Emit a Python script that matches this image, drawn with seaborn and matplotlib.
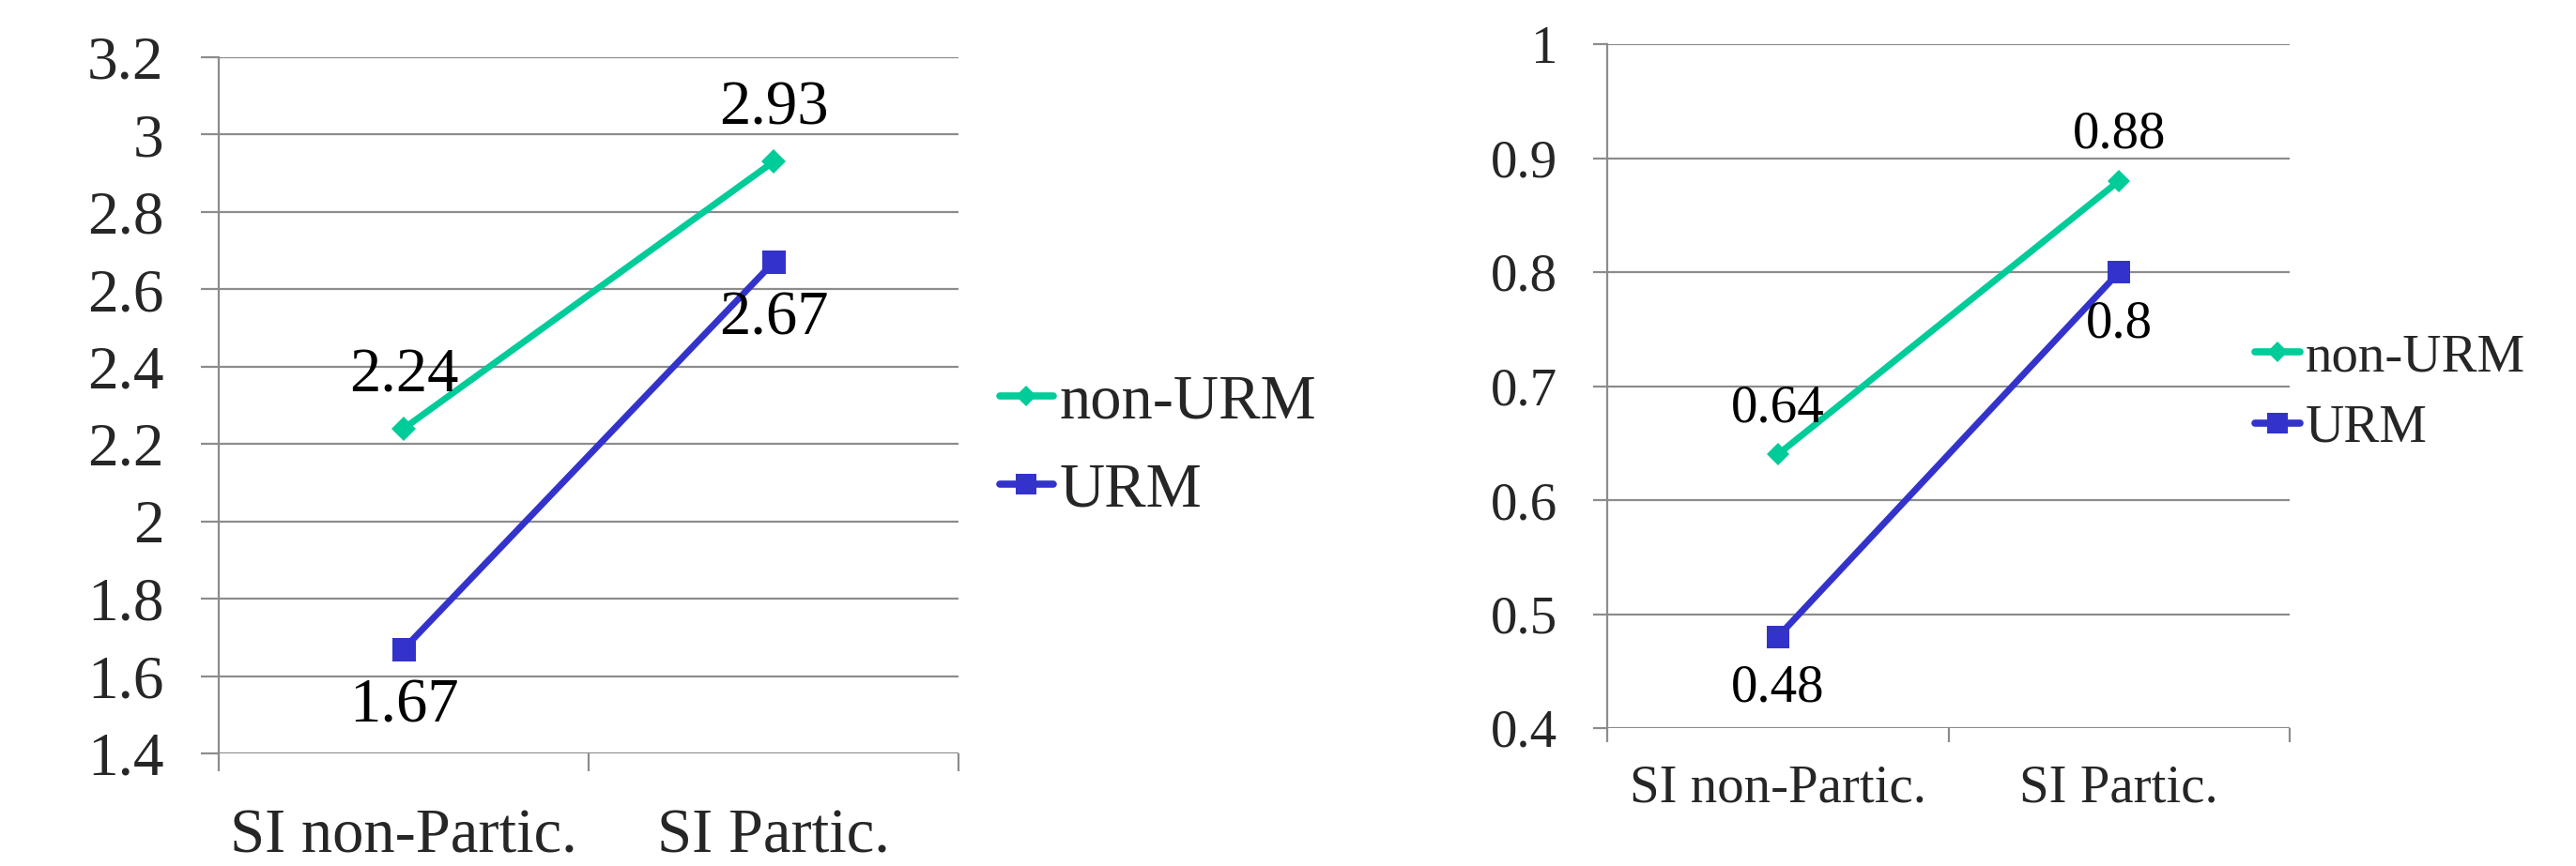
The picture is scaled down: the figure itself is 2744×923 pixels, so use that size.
import matplotlib
matplotlib.use("Agg")
import matplotlib.pyplot as plt
import seaborn as sns
import pandas as pd

categories = ["SI non-Partic.", "SI Partic."]
groups = ["non-URM", "URM"]
left_nonurm = [2.24, 2.93]
left_urm = [1.67, 2.67]
right_nonurm = [0.64, 0.88]
right_urm = [0.48, 0.80]
left_labels = {"non-URM": ["2.24", "2.93"], "URM": ["1.67", "2.67"]}
right_labels = {"non-URM": ["0.64", "0.88"], "URM": ["0.48", "0.8"]}
left_yticks = [1.4, 1.6, 1.8, 2.0, 2.2, 2.4, 2.6, 2.8, 3.0, 3.2]
left_yticklabels = ["1.4", "1.6", "1.8", "2", "2.2", "2.4", "2.6", "2.8", "3", "3.2"]
right_yticks = [0.4, 0.5, 0.6, 0.7, 0.8, 0.9, 1.0]
right_yticklabels = ["0.4", "0.5", "0.6", "0.7", "0.8", "0.9", "1"]

colors = {"non-URM": "#00CC99", "URM": "#3333CC"}
markers = {"non-URM": "D", "URM": "s"}

sns.set_style("white")
plt.rcParams["font.family"] = ["Liberation Serif", "DejaVu Serif"]

def make_df(nonurm, urm):
    rows = []
    for g, vals in zip(groups, [nonurm, urm]):
        for c, v in zip(categories, vals):
            rows.append({"cat": c, "val": v, "group": g})
    return pd.DataFrame(rows)

fig = plt.figure(figsize=(27.44, 9.23), dpi=100)
axL = fig.add_axes([233/2744, 1-803/923, 788/2744, (803-61)/923])
axR = fig.add_axes([1712/2744, 1-776/923, 727/2744, (776-47)/923])

GRID = "#8C8C8C"

def draw(ax, nonurm, urm, labels, yticks, yticklabels, ylim, fs, tickfs, xfs,
         ticklen, ypad, xpad, above, below, leg_xy, leg_spacing, msq, mdi):
    df = make_df(nonurm, urm)
    sns.lineplot(data=df, x="cat", y="val", hue="group", style="group",
                 palette=colors, markers=markers, dashes=False, ax=ax,
                 linewidth=5, markeredgewidth=0, legend=True, sort=False)
    for line in ax.get_lines():
        line.set_linewidth(5)
        if line.get_marker() == "s":
            line.set_markersize(msq)
        elif line.get_marker() == "D":
            line.set_markersize(mdi)
    ax.set_xlim(-0.5, 1.5)
    ax.set_ylim(*ylim)
    ax.set_yticks(yticks)
    ax.set_yticklabels(yticklabels)
    ax.set_xticks(range(len(categories)))
    ax.set_xticklabels(categories)
    ax.set_xticks([-0.5, 0.5, 1.5], minor=True)
    ax.set_xlabel("")
    ax.set_ylabel("")
    ax.yaxis.grid(True, color=GRID, linewidth=1.6)
    ax.xaxis.grid(False)
    for s in ["top", "right", "bottom"]:
        ax.spines[s].set_visible(False)
    ax.spines["left"].set_color(GRID)
    ax.spines["left"].set_linewidth(1.6)
    ax.tick_params(axis="y", which="major", length=ticklen, width=1.6, color=GRID,
                   labelsize=tickfs, pad=ypad, left=True, direction="out")
    ax.tick_params(axis="x", which="major", length=0, labelsize=xfs, pad=xpad)
    ax.tick_params(axis="x", which="minor", length=ticklen, width=1.6, color=GRID,
                   bottom=True, direction="out")
    for g, vals in zip(groups, [nonurm, urm]):
        for i, v in enumerate(vals):
            off = above if g == "non-URM" else -below
            ax.annotate(labels[g][i], xy=(i, v), xytext=(0, off),
                        textcoords="offset pixels", ha="center", va="center",
                        fontsize=fs, color="black")
    handles, labs = ax.get_legend_handles_labels()
    if ax.get_legend() is not None:
        ax.get_legend().remove()
    for h in handles:
        h.set_linewidth(5.5)
        if h.get_marker() == "D":
            h.set_markersize(mdi * 0.9)
        else:
            h.set_markersize(msq * 0.9)
    fig.legend(handles, labs, loc="center left", bbox_to_anchor=leg_xy,
               bbox_transform=fig.transFigure, frameon=False, fontsize=fs,
               handlelength=0.85, handletextpad=0.1, borderpad=0,
               borderaxespad=0, labelspacing=leg_spacing)

draw(axL, left_nonurm, left_urm, left_labels, left_yticks, left_yticklabels,
     (1.4, 3.2), 48, 47, 48, 14, 28, 42, 56, 61,
     (1065/2744, 1-476/923), 0.5, 18, 13)
draw(axR, right_nonurm, right_urm, right_labels, right_yticks, right_yticklabels,
     (0.4, 1.0), 41, 41, 41, 11, 27, 28, 49, 55,
     (2402/2744, 1-419/923), 0.42, 17, 12)

fig.savefig("out.png", dpi=100, facecolor="white")
